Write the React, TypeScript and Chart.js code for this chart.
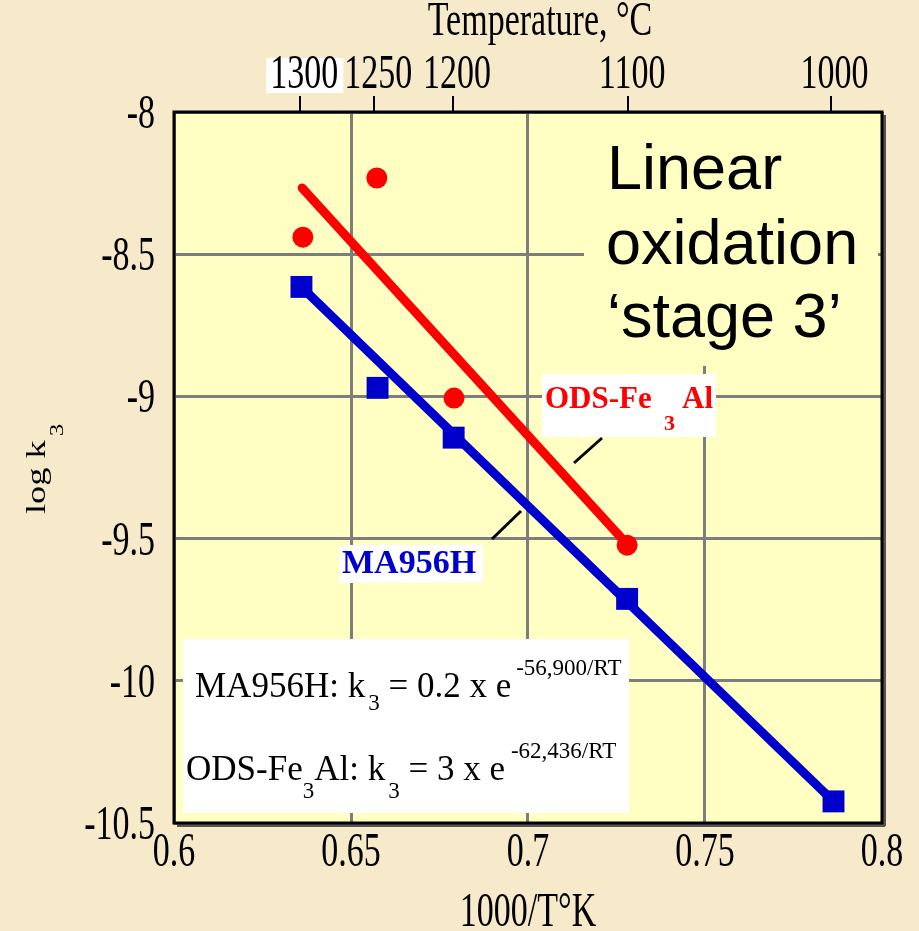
import { useEffect, useRef } from "react";
import { Chart, registerables } from "chart.js";
Chart.register(...registerables);

// ---- data ----
const xTickValues = [0.6, 0.65, 0.7, 0.75, 0.8];
const yTickValues = [-8, -8.5, -9, -9.5, -10, -10.5];
const tempTicksC = [1300, 1250, 1200, 1100, 1000];

const maInvT = [0.636, 0.6575, 0.679, 0.728, 0.7863];
const maLogK = [-8.615, -8.97, -9.145, -9.712, -10.424];
const odsInvT = [0.6364, 0.6573, 0.6791, 0.728];
const odsLogK = [-8.44, -8.232, -9.006, -9.523];

const maFitInvT = [0.636, 0.7863];
const maFitLogK = [-8.615, -10.424];
const odsFitInvT = [0.6362, 0.728];
const odsFitLogK = [-8.267, -9.52];

const RED = "#FF0000";
const BLUE = "#0000CC";
const PAGE_BG = "#F6EACB";
const PLOT_BG = "#FFFFC4";
const GRID = "#7d7d7d";
const SERIF = '"Liberation Serif", "Times New Roman", serif';
const SANS = '"Liberation Sans", Arial, sans-serif';
const SY = 1.45;

const pts = (xs: number[], ys: number[]) => xs.map((x, i) => ({ x, y: ys[i] }));

type Run = { t: string; size: number; dy?: number; gap?: number };
function drawRuns(ctx: CanvasRenderingContext2D, x: number, y: number, list: Run[], weight = "") {
  let cx = x;
  for (const r of list) {
    cx += r.gap || 0;
    ctx.font = `${weight} ${r.size}px ${SERIF}`;
    ctx.fillText(r.t, cx, y + (r.dy || 0));
    cx += ctx.measureText(r.t).width;
  }
}

function stretchText(ctx: CanvasRenderingContext2D, text: string, x: number, y: number, size: number, align: CanvasTextAlign) {
  ctx.save();
  ctx.translate(x, y);
  ctx.scale(1, SY);
  ctx.font = `${size}px ${SERIF}`;
  ctx.textAlign = align;
  ctx.textBaseline = "alphabetic";
  ctx.fillText(text, 0, 0);
  ctx.restore();
}

const decor = {
  id: "decor",
  beforeDraw(chart: any) {
    const { ctx, chartArea: a, width, height } = chart;
    ctx.save();
    ctx.fillStyle = PAGE_BG;
    ctx.fillRect(0, 0, width, height);
    ctx.fillStyle = PLOT_BG;
    ctx.fillRect(a.left, a.top, a.right - a.left, a.bottom - a.top);
    ctx.restore();
  },
  beforeDatasetsDraw(chart: any) {
    const ctx: CanvasRenderingContext2D = chart.ctx;
    ctx.save();
    // "Linear oxidation" box (covers grid)
    ctx.fillStyle = PLOT_BG;
    ctx.fillRect(584, 114, 294, 252);
    // white boxes
    ctx.fillStyle = "#FFFFFF";
    ctx.fillRect(183, 639, 446, 174);
    ctx.fillRect(542, 374, 174, 63);
    ctx.fillRect(339, 545, 144, 38);
    // leader lines
    ctx.strokeStyle = "#000";
    ctx.lineWidth = 3;
    ctx.beginPath();
    ctx.moveTo(574, 463);
    ctx.lineTo(602, 438);
    ctx.moveTo(492, 539);
    ctx.lineTo(521, 511);
    ctx.stroke();
    ctx.restore();
  },
  afterDraw(chart: any) {
    const ctx: CanvasRenderingContext2D = chart.ctx;
    const a = chart.chartArea;
    const xs = chart.scales.x;
    const ys = chart.scales.y;
    const xt = chart.scales.xTop;
    ctx.save();
    // frame with shadow
    ctx.fillStyle = "#555";
    ctx.fillRect(a.left + 3, a.bottom + 1, a.right - a.left, 3);
    ctx.fillRect(a.right + 1, a.top + 3, 3, a.bottom - a.top);
    ctx.strokeStyle = "#000";
    ctx.lineWidth = 3;
    ctx.strokeRect(a.left, a.top, a.right - a.left, a.bottom - a.top);

    // tick labels
    ctx.fillStyle = "#000";
    xs.ticks.forEach((t: any) => {
      stretchText(ctx, String(t.value), xs.getPixelForValue(t.value), 866, 34, "center");
    });
    ys.ticks.forEach((t: any) => {
      stretchText(ctx, String(t.value), 155, ys.getPixelForValue(t.value) + 16, 34, "right");
    });
    // top temperature ticks
    xt.ticks.forEach((t: any, i: number) => {
      const px = xt.getPixelForValue(t.value);
      if (i === 0) {
        ctx.fillStyle = "#FFFFFF";
        ctx.fillRect(px - 34, 58, 77, 35);
      }
      ctx.fillStyle = "#000";
      stretchText(ctx, String(tempTicksC[i]), px + 4, 88, 34, "center");
    });

    // axis titles
    stretchText(ctx, "Temperature, \u00B0C", 540, 35, 34, "center");
    stretchText(ctx, "1000/T\u00B0K", 528, 926, 34, "center");
    // rotated y title
    ctx.save();
    ctx.translate(45, 514);
    ctx.rotate(-Math.PI / 2);
    ctx.scale(1.3, 1);
    ctx.textAlign = "left";
    ctx.textBaseline = "alphabetic";
    ctx.font = `28px ${SERIF}`;
    ctx.fillText("log k", 0, 0);
    const w = ctx.measureText("log k").width;
    ctx.font = `19px ${SERIF}`;
    ctx.fillText("3", w + 3, 18);
    ctx.restore();

    // Linear oxidation text
    ctx.font = `63px ${SANS}`;
    ctx.textAlign = "left";
    ctx.fillStyle = "#000";
    ctx.fillText("Linear", 607, 189);
    ctx.fillText("oxidation", 606, 264);
    ctx.fillText("\u2018stage 3\u2019", 607, 337);

    // series labels
    ctx.fillStyle = RED;
    drawRuns(ctx, 545, 408, [{ t: "ODS-Fe", size: 31 }], "bold");
    drawRuns(ctx, 664, 430, [{ t: "3", size: 22 }], "bold");
    drawRuns(ctx, 682, 408, [{ t: "Al", size: 31 }], "bold");
    ctx.fillStyle = BLUE;
    drawRuns(ctx, 342, 573, [{ t: "MA956H", size: 34 }], "bold");

    // equations
    ctx.fillStyle = "#000";
    drawRuns(ctx, 195, 697, [
      { t: "MA956H: k", size: 35 },
      { t: "3", size: 23, dy: 13, gap: 3 },
      { t: " = 0.2 x e", size: 35 },
      { t: "-56,900/RT", size: 23, dy: -22, gap: 5 },
    ]);
    drawRuns(ctx, 186, 780, [
      { t: "ODS-Fe", size: 35 },
      { t: "3", size: 23, dy: 18 },
      { t: "Al: k", size: 35 },
      { t: "3", size: 23, dy: 18, gap: 3 },
      { t: " = 3 x e", size: 35 },
      { t: "-62,436/RT", size: 23, dy: -22, gap: 6 },
    ]);
    ctx.restore();
  },
};

export default function App() {
  const ref = useRef<HTMLCanvasElement>(null);
  useEffect(() => {
    document.body.style.margin = "0";
    document.body.style.background = PAGE_BG;
    const chart = new Chart(ref.current!, {
      type: "scatter",
      data: {
        datasets: [
          {
            label: "ODS-Fe3Al fit",
            data: pts(odsFitInvT, odsFitLogK),
            showLine: true,
            borderColor: RED,
            borderWidth: 9,
            borderCapStyle: "round",
            pointRadius: 0,
          },
          {
            label: "MA956H fit",
            data: pts(maFitInvT, maFitLogK),
            showLine: true,
            borderColor: BLUE,
            borderWidth: 9,
            borderCapStyle: "round",
            pointRadius: 0,
          },
          {
            label: "ODS-Fe3Al",
            data: pts(odsInvT, odsLogK),
            pointStyle: "circle",
            pointRadius: 10.5,
            backgroundColor: RED,
            borderWidth: 0,
          },
          {
            label: "MA956H",
            data: pts(maInvT, maLogK),
            pointStyle: "rect",
            pointRadius: 15.5,
            backgroundColor: BLUE,
            borderWidth: 0,
          },
        ],
      } as any,
      options: {
        animation: false,
        responsive: false,
        events: [],
        layout: { padding: { left: 0, right: 37, top: 0, bottom: 0 } },
        plugins: { legend: { display: false }, tooltip: { enabled: false } },
        scales: {
          x: {
            type: "linear",
            position: "bottom",
            min: 0.6,
            max: 0.8,
            afterBuildTicks: (s: any) => {
              s.ticks = xTickValues.map((v) => ({ value: v }));
            },
            afterFit: (s: any) => {
              s.height = 108;
            },
            ticks: { display: false },
            grid: { color: GRID, lineWidth: 3, drawTicks: false },
            border: { display: false },
          },
          xTop: {
            type: "linear",
            position: "top",
            min: 0.6,
            max: 0.8,
            afterBuildTicks: (s: any) => {
              s.ticks = tempTicksC.map((c) => ({ value: 1000 / (c + 273.15) }));
            },
            afterFit: (s: any) => {
              s.height = 112;
            },
            ticks: { display: false },
            grid: { drawOnChartArea: false, drawTicks: true, tickLength: 16, color: "#000", lineWidth: 2 },
            border: { display: false },
          },
          y: {
            type: "linear",
            min: -10.5,
            max: -8,
            afterBuildTicks: (s: any) => {
              s.ticks = yTickValues.map((v) => ({ value: v }));
            },
            afterFit: (s: any) => {
              s.width = 174;
            },
            ticks: { display: false },
            grid: { color: GRID, lineWidth: 3, drawTicks: false },
            border: { display: false },
          },
        },
      } as any,
      plugins: [decor],
    });
    return () => chart.destroy();
  }, []);
  return (
    <div style={{ width: 919, height: 931 }}>
      <canvas ref={ref} width={919} height={931} style={{ display: "block" }} />
    </div>
  );
}
